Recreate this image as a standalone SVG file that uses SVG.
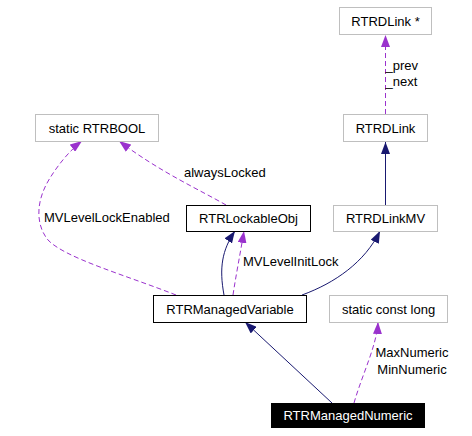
<svg xmlns="http://www.w3.org/2000/svg" width="472" height="436" viewBox="0 0 472 436">
<style>
text{font-family:"Liberation Sans",Arial,sans-serif;font-size:13px;fill:#000}
.c{text-anchor:middle}
.g{fill:#fff;stroke:#bfbfbf;stroke-width:1}
.k{fill:#fff;stroke:#000;stroke-width:1}
.inh{fill:none;stroke:#191970;stroke-width:1}
.use{fill:none;stroke:#9a32cd;stroke-width:1;stroke-dasharray:5,3}
</style>
<defs>
<marker id="an" markerUnits="userSpaceOnUse" viewBox="0 0 12 9" refX="12" refY="4.5" markerWidth="12" markerHeight="9" orient="auto"><path d="M0,0L12,4.5L0,9z" fill="#191970"/></marker>
<marker id="ap" markerUnits="userSpaceOnUse" viewBox="0 0 12 9" refX="12" refY="4.5" markerWidth="12" markerHeight="9" orient="auto"><path d="M0,0L12,4.5L0,9z" fill="#9a32cd"/></marker>
</defs>
<g id="edges">
<path class="use" d="M385.5,114L385.5,35" marker-end="url(#ap)"/>
<path class="inh" d="M385.5,205L385.5,142" marker-end="url(#an)"/>
<path class="use" d="M226,205C200,190 160,172 119,141" marker-end="url(#ap)"/>
<path class="use" d="M176,295C125,275 65,258 48,240C35,224 36,200 50,178C58,165 70,150 82,141" marker-end="url(#ap)"/>
<path class="inh" d="M224,295C219,268 222,250 235,231" marker-end="url(#an)"/>
<path class="use" d="M233,295C236,275 240,255 244,231" marker-end="url(#ap)"/>
<path class="inh" d="M302,295C335,283 365,262 380,231" marker-end="url(#an)"/>
<path class="inh" d="M332,403L245,322" marker-end="url(#an)"/>
<path class="use" d="M354,403C362,375 377,345 378,322" marker-end="url(#ap)"/>
<text x="385.5" y="70">_prev</text>
<text x="385.5" y="85.5">_next</text>
<text x="184" y="177">alwaysLocked</text>
<text x="44" y="221.5">MVLevelLockEnabled</text>
<text x="243" y="266">MVLevelInitLock</text>
<text class="c" x="412" y="357">MaxNumeric</text>
<text class="c" x="412" y="374">MinNumeric</text>
</g>
<g id="RTRDLinkPtr"><rect class="g" x="339.5" y="7.5" width="92" height="27"/><text class="c" x="385.5" y="25.5">RTRDLink *</text></g>
<g id="RTRDLink"><rect class="g" x="343.5" y="114.5" width="84" height="27"/><text class="c" x="385.5" y="132.5">RTRDLink</text></g>
<g id="staticRTRBOOL"><rect class="g" x="35.5" y="114.5" width="123" height="27"/><text class="c" x="97" y="132.5">static RTRBOOL</text></g>
<g id="RTRLockableObj"><rect class="k" x="186.5" y="205.5" width="124" height="26"/><text class="c" x="248.5" y="222.5">RTRLockableObj</text></g>
<g id="RTRDLinkMV"><rect class="g" x="333.5" y="205.5" width="104" height="26"/><text class="c" x="385.5" y="222.5">RTRDLinkMV</text></g>
<g id="RTRManagedVariable"><rect class="k" x="153.5" y="295.5" width="153" height="27"/><text class="c" x="230" y="313.5">RTRManagedVariable</text></g>
<g id="staticConstLong"><rect class="g" x="329.5" y="295.5" width="118" height="27"/><text class="c" x="388.5" y="313.5">static const long</text></g>
<g id="RTRManagedNumeric"><rect x="271" y="403" width="154" height="25" fill="#000"/><text class="c" x="348" y="420" style="fill:#fff">RTRManagedNumeric</text></g>
</svg>
